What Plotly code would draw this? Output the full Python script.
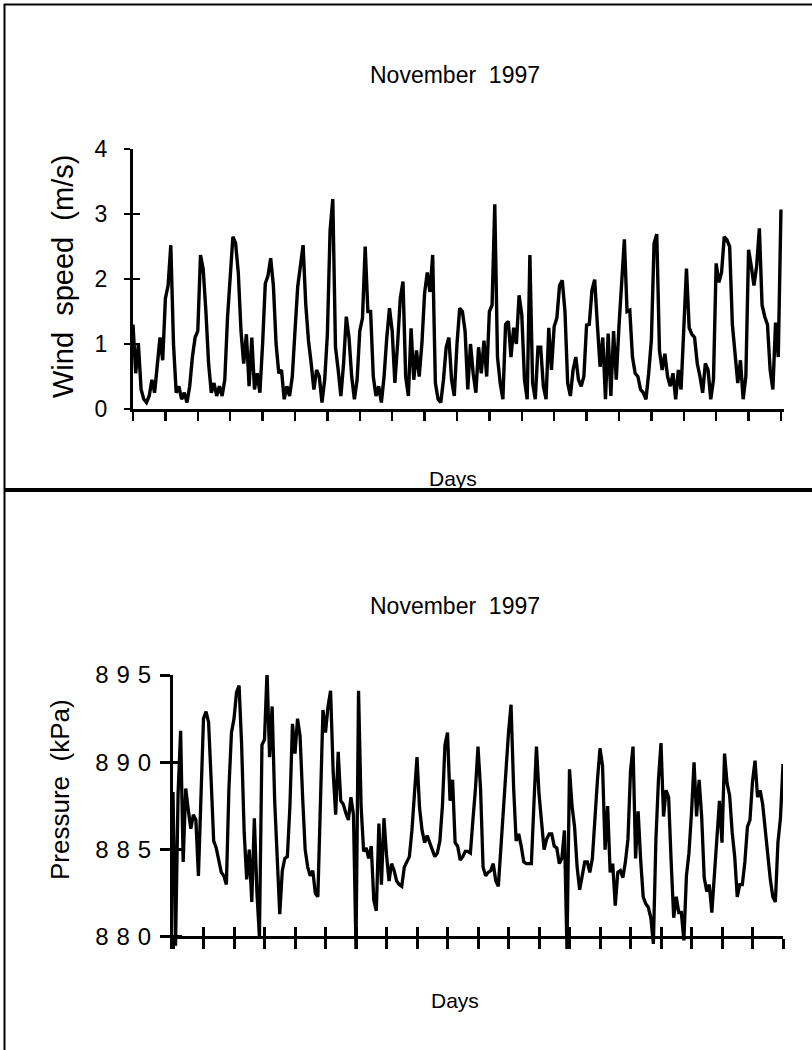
import plotly.graph_objects as go

W, H = 812, 1050
FONT = "Liberation Sans, Arial, Helvetica, sans-serif"

# ---- data (2-hourly samples, 12 per day, 20 days) ----
wind_speed = [
    1.3, 0.55, 1.0, 0.3, 0.15, 0.1, 0.2, 0.45, 0.25, 0.7, 1.1, 0.75,      # day 0
    1.7, 1.9, 2.52, 1.0, 0.25, 0.35, 0.15, 0.25, 0.1, 0.35, 0.8, 1.1,     # day 1
    1.2, 2.37, 2.15, 1.5, 0.7, 0.25, 0.4, 0.2, 0.35, 0.2, 0.45, 1.4,      # day 2
    2.0, 2.65, 2.55, 2.1, 1.2, 0.7, 1.15, 0.35, 1.1, 0.3, 0.55, 0.25,     # day 3
    1.0, 1.93, 2.05, 2.32, 1.9, 1.0, 0.55, 0.6, 0.15, 0.35, 0.2, 0.5,     # day 4
    1.2, 1.88, 2.2, 2.52, 1.6, 1.05, 0.7, 0.3, 0.6, 0.5, 0.1, 0.45,       # day 5
    1.15, 2.75, 3.23, 0.95, 0.6, 0.2, 0.7, 1.42, 1.1, 0.5, 0.15, 0.45,    # day 6
    1.2, 1.4, 2.5, 1.5, 1.5, 0.5, 0.2, 0.35, 0.1, 0.5, 1.1, 1.55,         # day 7
    1.2, 0.4, 1.0, 1.7, 1.96, 0.5, 0.2, 1.24, 0.45, 0.9, 0.5, 1.0,        # day 8
    1.78, 2.1, 1.8, 2.37, 0.4, 0.15, 0.1, 0.45, 0.95, 1.1, 0.45, 0.2,     # day 9
    1.0, 1.55, 1.5, 1.2, 0.3, 1.0, 0.55, 0.25, 0.95, 0.55, 1.05, 0.5,     # day 10
    1.5, 1.6, 3.15, 0.8, 0.4, 0.15, 1.3, 1.35, 0.8, 1.25, 1.0, 1.75,      # day 11
    1.45, 0.45, 0.15, 2.37, 0.4, 0.15, 0.95, 0.95, 0.35, 0.15, 1.25, 0.6, # day 12
    1.27, 1.4, 1.9, 1.98, 1.5, 0.4, 0.2, 0.6, 0.8, 0.45, 0.35, 0.5,       # day 13
    1.29, 1.3, 1.83, 1.99, 1.3, 0.65, 1.1, 0.15, 1.16, 0.2, 1.2, 0.45,    # day 14
    1.27, 1.88, 2.61, 1.5, 1.52, 0.8, 0.55, 0.5, 0.3, 0.25, 0.15, 0.55,   # day 15
    1.06, 2.55, 2.69, 0.9, 0.6, 0.85, 0.5, 0.35, 0.55, 0.15, 0.6, 0.3,    # day 16
    1.34, 2.16, 1.25, 1.15, 1.1, 0.7, 0.5, 0.25, 0.7, 0.6, 0.15, 0.45,    # day 17
    2.24, 1.95, 2.1, 2.65, 2.6, 2.5, 1.3, 0.8, 0.4, 0.75, 0.15, 0.5,      # day 18
    2.45, 2.2, 1.9, 2.2, 2.78, 1.6, 1.42, 1.3, 0.6, 0.3, 1.33, 0.8,       # day 19
    3.07,                                                                 # day 20
]

pressure = [
    888.3, 879.5, 888.2, 891.8, 884.3, 888.5, 887.3, 886.2, 887.0, 886.7, 883.5, 888.8,  # day 0
    892.5, 892.9, 892.3, 889.0, 885.5, 885.1, 884.5, 883.7, 883.5, 883.0, 888.5, 891.7,  # day 1
    892.5, 894.0, 894.4, 891.0, 886.0, 883.3, 885.0, 882.0, 886.8, 882.6, 880.0, 891.0,  # day 2
    891.3, 895.2, 890.3, 893.2, 887.8, 884.0, 881.3, 883.8, 884.5, 884.6, 887.5, 892.2,  # day 3
    890.5, 892.5, 891.5, 888.0, 885.0, 884.0, 883.5, 883.8, 882.5, 882.3, 888.5, 893.0,  # day 4
    891.7, 893.2, 894.1, 889.5, 887.0, 890.6, 887.8, 887.6, 887.1, 886.7, 888.0, 887.0,  # day 5
    879.3, 894.1, 887.5, 884.9, 885.1, 884.5, 885.2, 882.1, 881.5, 886.5, 883.0, 886.8,  # day 6
    884.7, 883.2, 884.2, 883.8, 883.2, 883.0, 882.9, 884.0, 884.3, 884.6, 886.1, 888.0,  # day 7
    890.3, 887.4, 886.1, 885.4, 885.8, 885.4, 885.0, 884.6, 884.8, 885.5, 887.5, 891.0,  # day 8
    891.7, 887.8, 889.0, 885.4, 885.2, 884.4, 884.6, 884.9, 884.9, 884.8, 886.7, 888.5,  # day 9
    890.9, 888.5, 884.0, 883.5, 883.7, 883.8, 884.2, 883.2, 882.9, 885.3, 887.5, 889.8,  # day 10
    891.7, 893.3, 888.6, 885.5, 885.9, 885.2, 884.3, 884.2, 884.2, 884.2, 887.6, 890.9,  # day 11
    888.2, 886.3, 885.0, 885.6, 885.9, 885.9, 885.2, 885.1, 884.2, 884.5, 886.1, 879.3,  # day 12
    889.6, 887.5, 886.3, 884.0, 882.7, 883.5, 884.3, 884.3, 883.7, 884.5, 886.9, 889.0,  # day 13
    890.8, 889.8, 885.0, 887.5, 883.7, 884.2, 881.8, 883.7, 883.8, 883.4, 884.3, 885.6,  # day 14
    889.5, 890.9, 884.5, 887.2, 884.4, 882.3, 881.9, 881.7, 881.1, 879.6, 885.6, 889.0,  # day 15
    891.1, 886.9, 888.4, 888.0, 884.3, 881.1, 882.3, 881.4, 881.4, 879.8, 883.5, 884.8,  # day 16
    887.1, 890.0, 886.9, 889.0, 886.9, 883.4, 882.6, 883.0, 881.4, 883.5, 885.2, 887.8,  # day 17
    885.4, 890.5, 888.8, 888.1, 886.0, 884.6, 882.3, 883.0, 883.0, 884.3, 886.3, 886.7,  # day 18
    888.9, 890.1, 888.0, 888.4, 887.6, 886.0, 884.7, 883.3, 882.3, 882.0, 885.4, 886.8,  # day 19
    889.9,                                                                               # day 20
]

SAMPLES_PER_DAY = 12
t_wind = [i / SAMPLES_PER_DAY for i in range(len(wind_speed))]
t_pres = [i / SAMPLES_PER_DAY for i in range(len(pressure))]

day_ticks = list(range(0, 21))
wind_ticks = [0, 1, 2, 3, 4]
wind_ticklabels = ["0", "1", "2", "3", "4"]
pres_ticks = [880, 885, 890, 895]
pres_ticklabels = ["8\u20048\u20040", "8\u20048\u20045", "8\u20049\u20040", "8\u20049\u20045"]

title_text = "November\u00a0 1997"
xlabel_text = "Days"
wind_label = "Wind\u00a0 speed\u00a0 (m/s)"
pres_label = "Pressure\u00a0 (kPa)"

# ---- figure ----
def py(px):
    return 1 - px / H

def pxx(px):
    return px / W

fig = go.Figure()
fig.add_trace(go.Scatter(x=t_wind, y=wind_speed, mode="lines",
                         line=dict(color="black", width=3.4),
                         xaxis="x", yaxis="y", hoverinfo="skip"))
fig.add_trace(go.Scatter(x=t_pres, y=pressure, mode="lines",
                         line=dict(color="black", width=3.3),
                         xaxis="x2", yaxis="y2", hoverinfo="skip"))
# helper traces so the inside-tick overlay axes are drawn
fig.add_trace(go.Scatter(x=[None], y=[None], xaxis="x", yaxis="y3", hoverinfo="skip"))
fig.add_trace(go.Scatter(x=[None], y=[None], xaxis="x3", yaxis="y2", hoverinfo="skip"))
fig.add_trace(go.Scatter(x=[None], y=[None], xaxis="x2", yaxis="y4", hoverinfo="skip"))

common = dict(showgrid=False, zeroline=False, automargin=False, fixedrange=True,
              linecolor="black", tickcolor="black")

top_x_dom = [pxx(133), pxx(784.2)]
top_y_dom = [py(409), py(149)]
bot_x_dom = [pxx(173), pxx(783)]
bot_y_dom = [py(949.2), py(675)]
bot_axis_pos = py(937)

fig.update_layout(
    width=W, height=H, autosize=False,
    margin=dict(l=0, r=0, t=0, b=0, pad=0),
    paper_bgcolor="white", plot_bgcolor="white",
    showlegend=False,
    font=dict(family=FONT, color="black"),
    xaxis=dict(domain=top_x_dom, range=[0, 20.1], anchor="y",
               showline=True, linewidth=3, ticks="outside", ticklen=9, tickwidth=2.5,
               tickmode="array", tickvals=day_ticks, showticklabels=False, **common),
    yaxis=dict(domain=top_y_dom, range=[0, 4], anchor="x",
               showline=True, linewidth=3, ticks="outside", ticklen=6, tickwidth=2.5,
               tickmode="array", tickvals=wind_ticks, ticktext=wind_ticklabels,
               ticklabelstandoff=12, tickfont=dict(family=FONT, size=23, color="black"), **common),
    yaxis3=dict(overlaying="y", anchor="x", side="left", range=[0, 4],
                showline=False, ticks="inside", ticklen=7, tickwidth=2.5,
                tickmode="array", tickvals=wind_ticks, showticklabels=False, **common),
    xaxis2=dict(domain=bot_x_dom, range=[0, 20], anchor="free", position=bot_axis_pos,
                showline=True, linewidth=3, ticks="outside", ticklen=10, tickwidth=3,
                tickmode="array", tickvals=day_ticks, showticklabels=False, **common),
    xaxis3=dict(overlaying="x2", anchor="free", position=bot_axis_pos, range=[0, 20],
                showline=False, ticks="inside", ticklen=10, tickwidth=3,
                tickmode="array", tickvals=day_ticks, showticklabels=False, **common),
    yaxis2=dict(domain=bot_y_dom, range=[879.3, 895], anchor="x2",
                showline=True, linewidth=3, ticks="outside", ticklen=10, tickwidth=3,
                tickmode="array", tickvals=pres_ticks, ticktext=pres_ticklabels,
                ticklabelstandoff=4, tickfont=dict(family=FONT, size=24, color="black"), **common),
    yaxis4=dict(overlaying="y2", anchor="x2", side="left", range=[879.3, 895],
                showline=False, ticks="inside", ticklen=9, tickwidth=3,
                tickmode="array", tickvals=pres_ticks, showticklabels=False, **common),
)

title_font = dict(family=FONT, size=23, color="black")
days_font = dict(family=FONT, size=21, color="black")
fig.add_annotation(text=title_text, x=pxx(455), y=py(75), xref="paper", yref="paper",
                   showarrow=False, font=title_font, xanchor="center", yanchor="middle")
fig.add_annotation(text=xlabel_text, x=pxx(453), y=py(478), xref="paper", yref="paper",
                   showarrow=False, font=days_font, xanchor="center", yanchor="middle")
fig.add_annotation(text=title_text, x=pxx(455), y=py(606), xref="paper", yref="paper",
                   showarrow=False, font=title_font, xanchor="center", yanchor="middle")
fig.add_annotation(text=xlabel_text, x=pxx(455), y=py(1000), xref="paper", yref="paper",
                   showarrow=False, font=days_font, xanchor="center", yanchor="middle")
fig.add_annotation(text=wind_label, x=pxx(63), y=py(277), xref="paper", yref="paper",
                   showarrow=False, font=dict(family=FONT, size=29, color="black"),
                   textangle=-90, xanchor="center", yanchor="middle")
fig.add_annotation(text=pres_label, x=pxx(60), y=py(790), xref="paper", yref="paper",
                   showarrow=False, font=dict(family=FONT, size=26, color="black"),
                   textangle=-90, xanchor="center", yanchor="middle")

# page frame
frame = dict(color="black")
fig.add_shape(type="line", xref="paper", yref="paper", x0=pxx(4.5), x1=pxx(4.5), y0=py(4), y1=0,
              line=dict(width=2, **frame))
fig.add_shape(type="line", xref="paper", yref="paper", x0=pxx(4), x1=1, y0=py(4.5), y1=py(4.5),
              line=dict(width=2, **frame))
fig.add_shape(type="line", xref="paper", yref="paper", x0=pxx(4), x1=1, y0=py(490), y1=py(490),
              line=dict(width=4, **frame))

fig.write_html("out.html", config={"displayModeBar": False, "staticPlot": True},
               post_script="document.body.style.margin='0';document.body.style.overflow='hidden';")
